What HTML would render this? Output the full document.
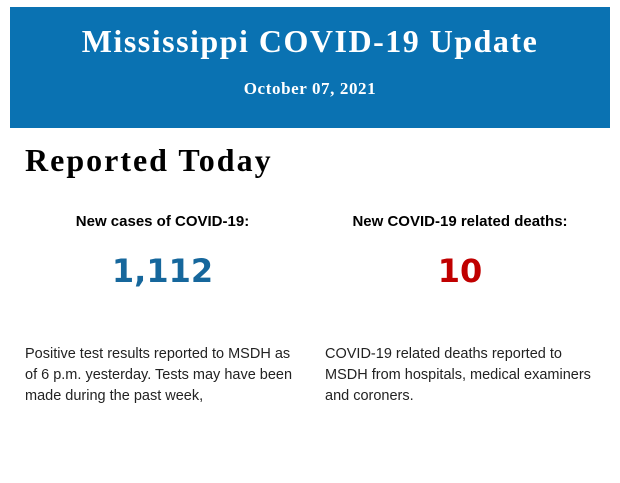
<!DOCTYPE html>
<html><head><style>
body{margin:0;width:620px;height:483px;background:#fff;position:relative;overflow:hidden}
.ban{position:absolute;left:10px;top:7px;width:600px;height:121px;background:#0a72b2;color:#fff;font-family:"Liberation Serif",serif;font-weight:bold;text-align:center}
.t{position:absolute;top:16px;width:100%;font-size:32px;letter-spacing:1.5px}
.d{position:absolute;top:72px;width:100%;font-size:17px;letter-spacing:0.6px}
h1{position:absolute;left:25px;top:142px;margin:0;font-family:"Liberation Serif",serif;font-size:32px;font-weight:bold;color:#000;letter-spacing:2px}
.lab{position:absolute;top:213px;font-family:"Liberation Sans",sans-serif;font-weight:bold;font-size:15px;text-align:center}
.num{position:absolute;top:252px;font-family:"DejaVu Sans",sans-serif;font-weight:bold;font-size:32px;text-align:center}
.p{position:absolute;top:344px;font-family:"Liberation Sans",sans-serif;font-size:14.5px;line-height:21px;color:#222}
</style></head><body>
<div class="ban"><div class="t">Mississippi COVID-19 Update</div><div class="d">October 07, 2021</div></div>
<h1>Reported Today</h1>
<div class="lab" style="left:25px;width:275px">New cases of COVID-19:</div>
<div class="lab" style="left:320px;width:280px">New COVID-19 related deaths:</div>
<div class="num" style="left:25px;width:275px;color:#16679c">1,112</div>
<div class="num" style="left:320px;width:280px;color:#c00000">10</div>
<div class="p" style="left:25px;width:275px">Positive test results reported to MSDH as of 6 p.m. yesterday. Tests may have been made during the past week,</div>
<div class="p" style="left:325px;width:275px">COVID-19 related deaths reported to<br>MSDH from hospitals, medical examiners and coroners.</div>
</body></html>
